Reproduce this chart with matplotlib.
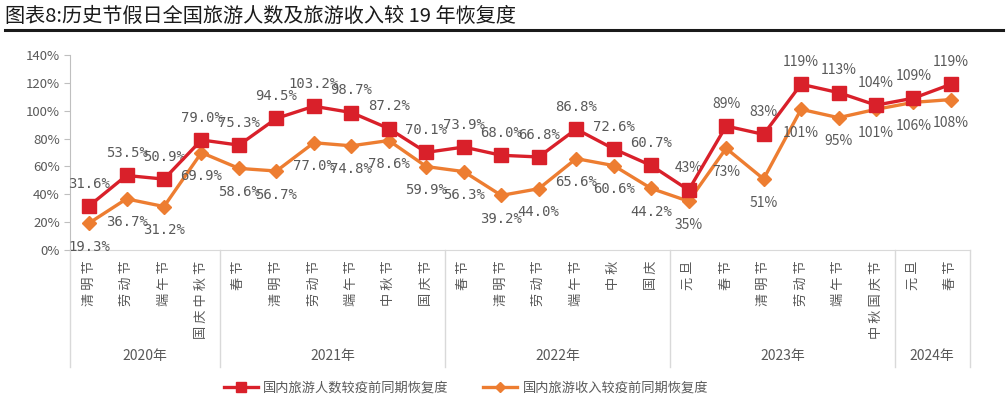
import matplotlib
matplotlib.use('Agg')
import matplotlib.pyplot as plt
import matplotlib.transforms as mtransforms
from matplotlib.lines import Line2D
import numpy as np

RED    = "#D9202A"
ORANGE = "#ED7D31"
GRAY   = "#595959"
LGRAY  = "#D9D9D9"

plt.rcParams.update({
    "font.family": ["Noto Sans CJK SC", "DejaVu Sans"],
    "axes.unicode_minus": False,
})

# ---- data ----
years = ['2020年', '2021年', '2022年', '2023年', '2024年']
year_counts = [4, 6, 6, 6, 2]
holidays = ['清明节', '劳动节', '端午节', '国庆中秋节',
            '春节', '清明节', '劳动节', '端午节', '中秋节', '国庆节',
            '春节', '清明节', '劳动节', '端午节', '中秋', '国庆',
            '元旦', '春节', '清明节', '劳动节', '端午节', '中秋国庆节',
            '元旦', '春节']
visitors = [31.6, 53.5, 50.9, 79.0, 75.3, 94.5, 103.2, 98.7, 87.2, 70.1,
            73.9, 68.0, 66.8, 86.8, 72.6, 60.7, 43, 89, 83, 119, 113, 104,
            109, 119]
revenue = [19.3, 36.7, 31.2, 69.9, 58.6, 56.7, 77.0, 74.8, 78.6, 59.9,
           56.3, 39.2, 44.0, 65.6, 60.6, 44.2, 35, 73, 51, 101, 95, 101,
           106, 108]
# first 16 labels shown with one decimal, later ones as integers
n_decimal = 16

fig = plt.figure(figsize=(10.07, 3.99), dpi=100)
W, H = 1007, 399

# title + rule
fig.text(5 / W, 1 - 16 / H, '图表8:历史节假日全国旅游人数及旅游收入较 19 年恢复度',
         fontsize=14.5, color='#1a1a1a', ha='left', va='center')
fig.add_artist(Line2D([5 / W, 1003 / W], [1 - 30 / H, 1 - 30 / H],
                      color='#1a1a1a', linewidth=2.2))

ax = fig.add_axes([70.3 / W, 1 - 250 / H, (969.7 - 70.3) / W, 195 / H])
x = np.arange(len(holidays))

ax.plot(x, visitors, color=RED, linewidth=2.4, marker='s', markersize=10,
        zorder=4, label='国内旅游人数较疫前同期恢复度')
ax.plot(x, revenue, color=ORANGE, linewidth=2.4, marker='D', markersize=7,
        zorder=3, label='国内旅游收入较疫前同期恢复度')

for i, (v, r) in enumerate(zip(visitors, revenue)):
    if i < n_decimal:
        fam, tv, tr = 'DejaVu Sans Mono', f'{v:.1f}%', f'{r:.1f}%'
    else:
        fam, tv, tr = ['Noto Sans CJK SC', 'DejaVu Sans'], f'{v:.0f}%', f'{r:.0f}%'
    ax.annotate(tv, (i, v), xytext=(0, 16), textcoords='offset points',
                ha='center', va='center', fontsize=10, color=GRAY, family=fam)
    ax.annotate(tr, (i, r), xytext=(0, -17), textcoords='offset points',
                ha='center', va='center', fontsize=10, color=GRAY, family=fam)

ax.set_xlim(-0.5, len(holidays) - 0.5)
ax.set_ylim(0, 140)
ax.set_yticks(np.arange(0, 141, 20))
ax.set_yticklabels([f'{t}%' for t in range(0, 141, 20)])
ax.tick_params(axis='y', colors=GRAY, labelsize=9.5, length=4, width=0.8,
               labelcolor=GRAY)
ax.tick_params(axis='y', color='#BFBFBF')
ax.set_xticks([])
for s in ['top', 'right']:
    ax.spines[s].set_visible(False)
ax.spines['left'].set_color('#BFBFBF')
ax.spines['bottom'].set_color(LGRAY)

# category labels (rotated 90, top-aligned, letter-spaced)
trans = mtransforms.blended_transform_factory(ax.transData, ax.transAxes)
for i, h in enumerate(holidays):
    ax.text(i, -0.055, ' '.join(h), transform=trans, ha='center', va='top',
            rotation=90, fontsize=9.5, color=GRAY)

# year groups
bounds = np.concatenate([[0], np.cumsum(year_counts)]) - 0.5
for b in bounds:
    ax.plot([b, b], [0, -0.6], transform=trans, color=LGRAY, linewidth=1,
            clip_on=False)
for k, yname in enumerate(years):
    ax.text((bounds[k] + bounds[k + 1]) / 2, -0.545, yname, transform=trans,
            ha='center', va='center', fontsize=10, color=GRAY)

# legend
h1 = Line2D([], [], color=RED, linewidth=2.4, marker='s', markersize=7)
h2 = Line2D([], [], color=ORANGE, linewidth=2.4, marker='D', markersize=5)
fig.legend([h1, h2], ['国内旅游人数较疫前同期恢复度', '国内旅游收入较疫前同期恢复度'],
           loc='center', bbox_to_anchor=(466 / W, 1 - 388 / H), ncol=2,
           frameon=False, fontsize=9.5, handlelength=2.6, handletextpad=0.4,
           columnspacing=2.6, labelcolor=GRAY)

fig.savefig('out.png', dpi=100)
